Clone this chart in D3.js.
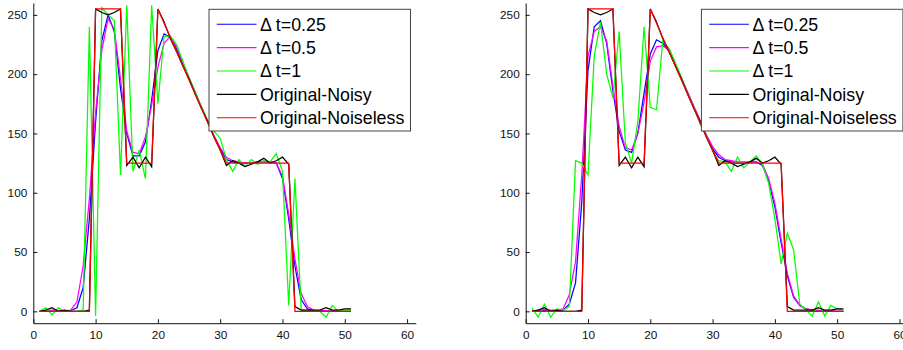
<!DOCTYPE html>
<html>
<head>
<meta charset="utf-8">
<script src="https://cdn.jsdelivr.net/npm/d3@7"></script>
<style>
  body { margin: 0; background: #fff; }
  svg { display: block; font-family: "Liberation Sans", Arial, sans-serif; }
</style>
</head>
<body>
<svg id="chart" width="903" height="350"></svg>
<script>
// sample index along the signal
const xIndex = [1,2,3,4,5,6,7,8,9,10,11,12,13,14,15,16,17,18,19,20,21,22,23,24,25,26,
  27,28,29,30,31,32,33,34,35,36,37,38,39,40,41,42,43,44,45,46,47,48,49,50,51];

// same two originals in both panels
const noiseless = [0,0,0,0,0,0,0,0,0, 255,255,255,255,255, 125,125,125,125,125,
  255,243,231,219,207,195,183,171,159,147,136,125,
  125,125,125,125,125,125,125,125,125,125, 0,0,0,0,0,0,0,0,0,0];
const noisy = [0,1,3,0,1,0,0,0,1, 255,252,250,252,255, 123,130,121,130,122,
  255,244,230,219,207,196,183,171,160,147,136,123,
  127,125,122,124,126,129,125,127,130,124, 4,1,1,1,1,3,1,1,2,2];

// left panel
const leftDt025 = [0,0,0.5,0,0,0.5,3,20,78,160,228,250,236,188,150,131,131,143,178,220,234,231,
  221,208,196,184,172,160,148,137,128,126,125,125,125,126,126,126,125,112,78,38,10,2,0.5,0,0.5,0.5,0,0,0];
const leftDt05 = [0,0.5,1,0.5,0.5,1,8,38,95,168,220,247,238,196,152,134,133,147,174,206,226,232,
  223,210,197,185,172,160,148,138,130,127,126,125,125,126,126,126,125,114,82,44,15,4,1,0.5,0.5,0.5,0,0,0];
const leftDt1 = [0,3,-3,3,0,0,0,1,240,-4,256,250,245,115,258,118,136,112,258,175,232,232,
  225,211,197,185,172,161,152,146,128,118,128,122,128,124,127,126,133,118,5,112,2,0,1,0,-5,5,0,1,1];

// right panel
const rightDt025 = [0,0.5,1,0.5,0.5,1,6,24,92,203,240,245,226,186,152,136,134,150,184,217,229,226,
  220,208,196,184,172,160,148,137,130,127,126,125,125,126,126,123,110,88,58,30,12,5,2,1,0.5,0.5,0,0,0];
const rightDt05 = [0.5,1,1.5,1,1,2,14,42,115,215,236,240,228,190,156,138,136,150,176,211,223,224,
  220,209,197,185,173,161,149,139,132,128,127,126,126,126,126,124,112,91,61,32,13,5,2,1,1,0.5,0.5,0,0];
const rightDt1 = [3,-5,6,-5,2,1,4,127,125,115,215,244,200,180,236,142,125,160,240,172,170,228,
  222,210,197,184,172,158,148,135,127,126,118,130,121,126,131,124,108,78,40,66,52,6,1,-4,8,-4,5,2,1];

const legendLabels = ["\u0394 t=0.25", "\u0394 t=0.5", "\u0394 t=1", "Original-Noisy", "Original-Noiseless"];
const seriesColors = ["#0000ff", "#ff00ff", "#00ff00", "#000000", "#ff0000"];
const xTicks = [0, 10, 20, 30, 40, 50, 60];
const yTicks = [0, 50, 100, 150, 200, 250];

const svg = d3.select("#chart");

const y = d3.scaleLinear().domain([-10, 260]).range([323.2, 3]);

function drawPanel(left, series) {
  const x = d3.scaleLinear().domain([0, 61.4]).range([left, left + 382.5]);
  const g = svg.append("g");

  const line = d3.line()
    .x((d, i) => x(xIndex[i]))
    .y(d => y(d));

  series.forEach((s, k) => {
    g.append("path")
      .datum(s)
      .attr("fill", "none")
      .attr("stroke", seriesColors[k])
      .attr("stroke-width", 1.25)
      .attr("stroke-linejoin", "miter")
      .attr("d", line);
  });

  const xAxis = g.append("g")
    .attr("transform", `translate(0,${y(-10)})`)
    .call(d3.axisBottom(x).tickValues(xTicks).tickSizeInner(-4).tickSizeOuter(0).tickPadding(7));
  const yAxis = g.append("g")
    .attr("transform", `translate(${left},0)`)
    .call(d3.axisLeft(y).tickValues(yTicks).tickSizeInner(-4).tickSizeOuter(0).tickPadding(6));

  [xAxis, yAxis].forEach(a => {
    a.selectAll("text").attr("font-size", "11.8px").attr("font-family", "Liberation Sans, Arial, sans-serif").attr("fill", "#111");
    a.selectAll("line, path").attr("stroke", "#111");
  });

  // legend
  const lx = left + 175.7, ly = 9.3;
  const lg = g.append("g");
  lg.append("rect")
    .attr("x", lx).attr("y", ly)
    .attr("width", 201.5).attr("height", 121.7)
    .attr("fill", "#fff").attr("stroke", "#444").attr("stroke-width", 1);
  legendLabels.forEach((lab, k) => {
    const ry = 24.2 + k * 23.4;
    lg.append("line")
      .attr("x1", lx + 7.8).attr("x2", lx + 47.5)
      .attr("y1", ry).attr("y2", ry)
      .attr("stroke", seriesColors[k]).attr("stroke-width", 1.1);
    lg.append("text")
      .attr("x", lx + 51).attr("y", ry)
      .attr("dy", "0.36em")
      .attr("font-size", "17.8px")
      .attr("fill", "#000")
      .text(lab);
  });
}

drawPanel(33.3, [leftDt025, leftDt05, leftDt1, noisy, noiseless]);
drawPanel(525.7, [rightDt025, rightDt05, rightDt1, noisy, noiseless]);
</script>
</body>
</html>
